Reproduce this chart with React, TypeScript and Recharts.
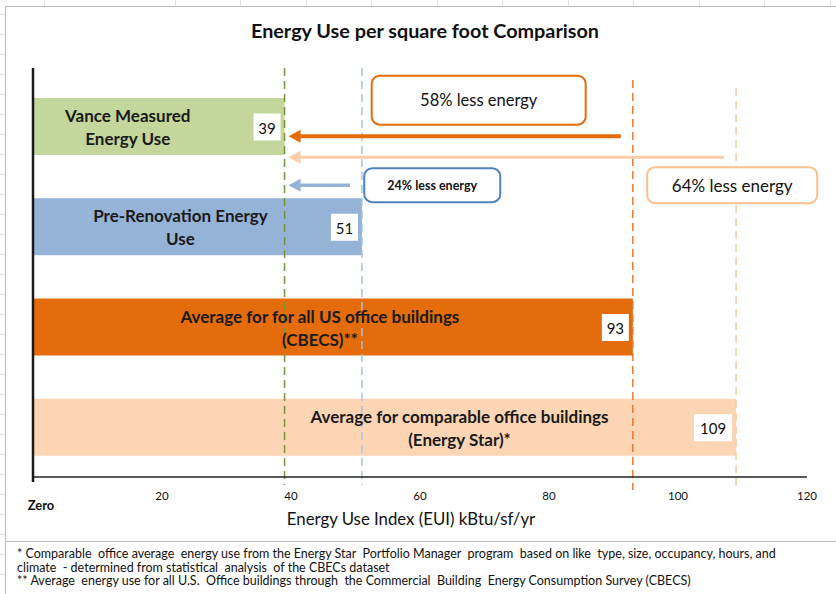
import React from "react";
import {
  Bar,
  BarChart,
  Cell,
  LabelList,
  ReferenceDot,
  ReferenceLine,
  XAxis,
  YAxis,
} from "recharts";

const categories = [
  "Vance Measured Energy Use",
  "Pre-Renovation Energy Use",
  "Average for for all US office buildings (CBECS)**",
  "Average for comparable office buildings (Energy Star)*",
];
const nameLines = [
  ["Vance Measured", "Energy Use"],
  ["Pre-Renovation Energy", "Use"],
  ["Average for for all US office buildings", "(CBECS)**"],
  ["Average for comparable office buildings", "(Energy Star)*"],
];
const eui = [39, 51, 93, 109];

const xTicks = [0, 20, 40, 60, 80, 100, 120];
const tickLabels = ["Zero", "20", "40", "60", "80", "100", "120"];

// savings arrows: from the comparison value back to Vance
const savingFrom = [93, 109, 51];
const savingTo = [39, 39, 39];
const savingLabels = ["58% less energy", "64% less energy", "24% less energy"];

const footnotes = [
  "* Comparable  office average  energy use from the Energy Star  Portfolio Manager  program  based on like  type, size, occupancy, hours, and",
  "climate  - determined from statistical  analysis  of the CBECs dataset",
  "** Average  energy use for all U.S.  Office buildings through  the Commercial  Building  Energy Consumption Survey (CBECS)",
];

const FONT = "Lato, Carlito, 'Noto Sans', sans-serif";
const barFill = ["#C3D69B", "#95B3D7", "#E46C0A", "#FCD5B5"];
const guideStroke = ["#77933C", "#A9C2E0", "#E8782A", "#FAC9A4"];

const data = categories.map((name, i) => ({ name, eui: eui[i] }));

// annotation layout, pixel offsets
const guideExtTop = [8, 8, -4, -12];
const guideExtBottom = [8, 8, 13, 13];
const arrowDy = [10, 31, 59]; // below the Vance bar centre
const arrowColor = ["#E46C0A", "#FBCDA8", "#95B3D7"];
const arrowWidth = [4, 3, 3.5];
const boxX = [69.1, 108.4, 61.9];
const boxDy = [-26, 59, 59];
const boxSize = [
  [214, 49],
  [170, 36],
  [136, 34],
];
const boxStroke = ["#E46C0A", "#FAC090", "#4F81BD"];
const boxFont = [16.5, 17, 12.5];
const nameShift = [-31, -17, -13, 75];

const GuideShape = (p: any) => {
  const { x1, y1, y2, color, dash, w, extTop, extBottom } = p;
  const top = Math.min(y1, y2) - extTop;
  const bottom = Math.max(y1, y2) + extBottom;
  return (
    <line
      x1={x1}
      x2={x1}
      y1={top}
      y2={bottom}
      stroke={color}
      strokeWidth={w}
      strokeDasharray={dash}
    />
  );
};

const ArrowShape = (p: any) => {
  const { x1, y1, x2, color, w, dy } = p;
  const y = y1 + dy;
  const dir = x2 < x1 ? -1 : 1;
  const tipX = x2 - dir * 4;
  const startX = x1 + dir * 12;
  const head = 12;
  const half = 6.5;
  return (
    <g>
      <line
        x1={startX}
        y1={y}
        x2={tipX - dir * head + dir}
        y2={y}
        stroke={color}
        strokeWidth={w}
      />
      <polygon
        points={`${tipX},${y} ${tipX - dir * head},${y - half} ${tipX - dir * head},${y + half}`}
        fill={color}
      />
    </g>
  );
};

const BoxShape = (p: any) => {
  const { cx, i } = p;
  const cy = p.cy + boxDy[i];
  const [w, h] = boxSize[i];
  return (
    <g>
      <rect
        x={cx - w / 2}
        y={cy - h / 2}
        width={w}
        height={h}
        rx={8}
        fill="#fff"
        stroke={boxStroke[i]}
        strokeWidth={2}
      />
      <text
        x={cx}
        y={cy}
        textAnchor="middle"
        dominantBaseline="central"
        fontFamily={FONT}
        fontSize={boxFont[i]}
        fontWeight={i === 2 ? 700 : 400}
        fill="#111"
      >
        {savingLabels[i]}
      </text>
    </g>
  );
};

const NameLabel = (p: any) => {
  const { x, y, width, height, value } = p;
  const i = categories.indexOf(value);
  if (i < 0) return null;
  const cx = x + width / 2 + nameShift[i];
  const cy = y + height / 2;
  return (
    <text
      textAnchor="middle"
      fontFamily={FONT}
      fontSize={17}
      fontWeight={700}
      fill="#1a1a1a"
    >
      <tspan x={cx} y={cy - 11} dominantBaseline="central">
        {nameLines[i][0]}
      </tspan>
      <tspan x={cx} y={cy + 12} dominantBaseline="central">
        {nameLines[i][1]}
      </tspan>
    </text>
  );
};

const ValueLabel = (p: any) => {
  const { x, y, width, height, value } = p;
  const s = String(value);
  const bw = s.length > 2 ? 38 : 27;
  const right = x + width - 4;
  const cy = y + height / 2;
  return (
    <g>
      <rect x={right - bw} y={cy - 13} width={bw} height={27} fill="#fff" />
      <text
        x={right - bw / 2}
        y={cy + 1}
        textAnchor="middle"
        dominantBaseline="central"
        fontFamily={FONT}
        fontSize={15}
        fill="#111"
      >
        {s}
      </text>
    </g>
  );
};

const Tick = (p: any) => {
  const { x, y, payload } = p;
  const i = xTicks.indexOf(payload.value);
  const zero = payload.value === 0;
  return (
    <text
      x={zero ? x + 8 : x}
      y={y + (zero ? 26 : 16)}
      textAnchor="middle"
      dominantBaseline="central"
      fontFamily={FONT}
      fontSize={zero ? 13 : 11.5}
      fontWeight={zero ? 700 : 400}
      fill="#111"
    >
      {tickLabels[i]}
    </text>
  );
};

export default function App() {
  return (
    <div
      style={{
        position: "fixed",
        left: 0,
        top: 0,
        width: 836,
        height: 594,
        overflow: "hidden",
        background: "#fff",
        backgroundImage:
          "repeating-linear-gradient(90deg, transparent 0 44px, #e2e2e2 44px 45px, transparent 45px 65.5px), repeating-linear-gradient(0deg, transparent 0 19px, #e2e2e2 19px 20px)",
        fontFamily: FONT,
      }}
    >
      <div
        style={{
          position: "absolute",
          left: 5,
          top: 6,
          width: 840,
          height: 534,
          background: "#fff",
          border: "1px solid #bdbdbd",
        }}
      />
      <div
        style={{
          position: "absolute",
          left: 5,
          top: 541,
          width: 840,
          height: 60,
          background: "#fff",
          border: "1px solid #bdbdbd",
        }}
      />
      <div
        style={{
          position: "absolute",
          left: 0,
          top: 16,
          width: 850,
          textAlign: "center",
          fontSize: 19.8,
          fontWeight: 700,
          color: "#111",
          lineHeight: "28px",
        }}
      >
        Energy Use per square foot Comparison
      </div>
      <div style={{ position: "absolute", left: 0, top: 0 }}>
        <BarChart
          width={836}
          height={540}
          data={data}
          layout="vertical"
          margin={{ top: 76, right: 29, bottom: 33, left: 33 }}
        >
          <XAxis
            type="number"
            domain={[0, 120]}
            ticks={xTicks}
            interval={0}
            height={30}
            tickSize={0}
            tickLine={false}
            axisLine={{ stroke: "#222", strokeWidth: 1.5 }}
            tick={<Tick />}
          />
          <YAxis type="category" dataKey="name" hide />
          <Bar dataKey="eui" barSize={57} isAnimationActive={false}>
            {data.map((_, i) => (
              <Cell key={i} fill={barFill[i]} />
            ))}
            <LabelList dataKey="name" content={<NameLabel />} />
            <LabelList dataKey="eui" content={<ValueLabel />} />
          </Bar>
          {eui.map((v, i) => (
            <ReferenceLine
              key={`g${i}`}
              x={v}
              ifOverflow="visible"
              shape={(p: any) => (
                <GuideShape
                  {...p}
                  color={guideStroke[i]}
                  w={1.5}
                  dash="8 5"
                  extTop={guideExtTop[i]}
                  extBottom={guideExtBottom[i]}
                />
              )}
            />
          ))}
          <ReferenceLine
            x={0}
            ifOverflow="visible"
            shape={(p: any) => (
              <GuideShape {...p} color="#1a1a1a" w={2.5} extTop={8} extBottom={5} />
            )}
          />
          {savingFrom.map((f, i) => (
            <ReferenceLine
              key={`a${i}`}
              ifOverflow="visible"
              position="middle"
              segment={[
                { x: f, y: categories[0] },
                { x: savingTo[i], y: categories[0] },
              ]}
              shape={(p: any) => (
                <ArrowShape {...p} color={arrowColor[i]} w={arrowWidth[i]} dy={arrowDy[i]} />
              )}
            />
          ))}
          {savingLabels.map((_, i) => (
            <ReferenceDot
              key={`b${i}`}
              x={boxX[i]}
              y={categories[0]}
              ifOverflow="visible"
              shape={(p: any) => <BoxShape {...p} i={i} />}
            />
          ))}
        </BarChart>
      </div>
      <div
        style={{
          position: "absolute",
          left: 0,
          top: 508,
          width: 822,
          textAlign: "center",
          fontSize: 16.8,
          color: "#111",
          lineHeight: "22px",
        }}
      >
        Energy Use Index (EUI) kBtu/sf/yr
      </div>
      <div
        style={{
          position: "absolute",
          left: 17,
          top: 547,
          fontSize: 12.5,
          lineHeight: "13.5px",
          color: "#111",
          whiteSpace: "pre",
        }}
      >
        {footnotes.map((t, i) => (
          <div key={i}>{t}</div>
        ))}
      </div>
    </div>
  );
}
